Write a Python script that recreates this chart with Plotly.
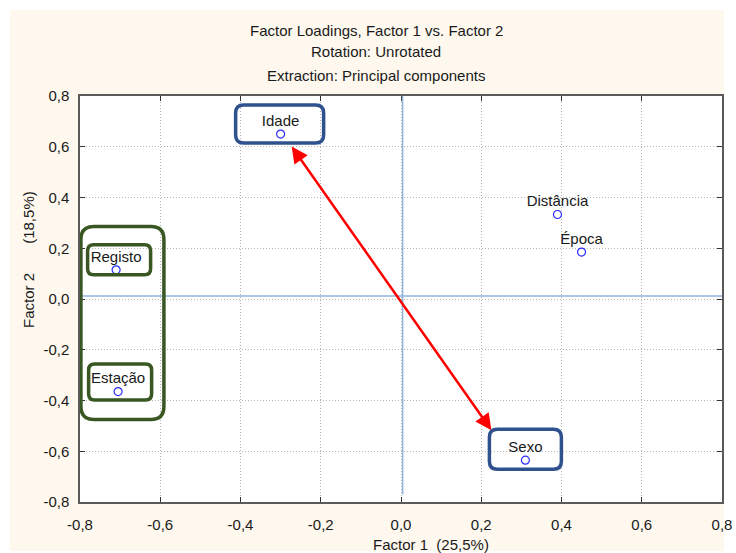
import plotly.graph_objects as go

# Factor loadings of each variable on the first two principal components
variables = ["Idade", "Distância", "Época", "Sexo", "Registo", "Estação"]
factor1 = [-0.30, 0.39, 0.45, 0.31, -0.71, -0.705]
factor2 = [0.65, 0.333, 0.185, -0.635, 0.115, -0.365]

tick_vals = [-0.8, -0.6, -0.4, -0.2, 0.0, 0.2, 0.4, 0.6, 0.8]
tick_text = ["-0,8", "-0,6", "-0,4", "-0,2", "0,0", "0,2", "0,4", "0,6", "0,8"]

title_lines = ["Factor Loadings, Factor 1 vs. Factor 2",
               "Rotation: Unrotated",
               "Extraction: Principal components"]
x_title = "Factor 1\u00a0\u00a0(25,5%)"
y_title = "Factor 2" + "\u00a0" * 7 + "(18,5%)"

FONT = "Liberation Sans, Arial, sans-serif"
TXT = "#1a1a1a"
CREAM = "#FEF8EE"
BLUE_BOX = "#2F528F"
GREEN_BOX = "#385723"

W, H = 736, 553
M = dict(l=80, r=14, t=96, b=51)
pw = W - M["l"] - M["r"]
ph = H - M["t"] - M["b"]
xr = (-0.8, 0.8)
yr = (-0.8, 0.8)
sx = pw / (xr[1] - xr[0])   # pixels per data unit, x
sy = ph / (yr[1] - yr[0])   # pixels per data unit, y

pt = {v: (a, b) for v, a, b in zip(variables, factor1, factor2)}


def shift(p, ox, oy):
    """Move a data point by a screen offset in pixels (oy positive = down)."""
    return (p[0] + ox / sx, p[1] - oy / sy)


def rounded_box(c, w, h, r):
    """Rounded rectangle path centred on data point c, sizes in pixels."""
    cx, cy = c
    x0, x1 = cx - w / 2 / sx, cx + w / 2 / sx
    y0, y1 = cy - h / 2 / sy, cy + h / 2 / sy
    rx, ry = r / sx, r / sy
    return (f"M {x0 + rx},{y1} L {x1 - rx},{y1} Q {x1},{y1} {x1},{y1 - ry} "
            f"L {x1},{y0 + ry} Q {x1},{y0} {x1 - rx},{y0} "
            f"L {x0 + rx},{y0} Q {x0},{y0} {x0},{y0 + ry} "
            f"L {x0},{y1 - ry} Q {x0},{y1} {x0 + rx},{y1} Z")


fig = go.Figure()
# loading markers
fig.add_trace(go.Scatter(
    x=factor1, y=factor2, mode="markers",
    marker=dict(symbol="circle-open", size=8, color="#2a2aff",
                line=dict(width=1.2, color="#2a2aff")),
    cliponaxis=False, showlegend=False, hoverinfo="skip",
))
# variable names, set just above each marker
label_pos = [shift(pt[v], 0, -12) for v in variables]
fig.add_trace(go.Scatter(
    x=[p[0] for p in label_pos], y=[p[1] for p in label_pos],
    text=variables, mode="text", textposition="middle center",
    textfont=dict(family=FONT, size=15, color=TXT),
    cliponaxis=False, showlegend=False, hoverinfo="skip",
))

shapes = [
    # cream page panel and white plotting area
    dict(type="rect", xref="paper", yref="paper", layer="below",
         x0=(10 - M["l"]) / pw, x1=(724 - M["l"]) / pw,
         y0=(H - M["b"] - 551) / ph, y1=(H - M["b"] - 10) / ph,
         fillcolor=CREAM, line=dict(width=0)),
    dict(type="rect", xref="x", yref="y", layer="below",
         x0=xr[0], x1=xr[1], y0=yr[0], y1=yr[1],
         fillcolor="white", line=dict(width=0)),
    # origin reference lines
    dict(type="line", xref="x", yref="y", x0=0.004, x1=0.004, y0=yr[1], y1=-0.77,
         line=dict(color="#8fb5de", width=1.5)),
    dict(type="line", xref="x", yref="y", x0=xr[0], x1=xr[1], y0=0.012, y1=0.012,
         line=dict(color="#8fb5de", width=1.5)),
    # highlighted groups
    dict(type="path", path=rounded_box(shift(pt["Idade"], -1, -10), 88, 38, 8),
         line=dict(color=BLUE_BOX, width=3.5)),
    dict(type="path", path=rounded_box(shift(pt["Sexo"], 0, -11), 72, 40, 8),
         line=dict(color=BLUE_BOX, width=3.5)),
    dict(type="path", path=rounded_box(shift(pt["Registo"], 3, -10), 63, 30, 6),
         line=dict(color=GREEN_BOX, width=3.5)),
    dict(type="path", path=rounded_box(shift(pt["Estação"], 2, -9.5), 63, 36, 6),
         line=dict(color=GREEN_BOX, width=3.5)),
    dict(type="path", path=rounded_box(shift(pt["Registo"], 6.3, 53.2), 83, 193, 13),
         line=dict(color=GREEN_BOX, width=3.5)),
]

tail = shift(pt["Idade"], 10, 11)
head = shift(pt["Sexo"], -34, -30)

annotations = [
    dict(x=head[0], y=head[1], ax=tail[0], ay=tail[1], xref="x", yref="y",
         axref="x", ayref="y", text="", showarrow=True, arrowside="end+start",
         arrowhead=2, startarrowhead=2, arrowsize=1.3, startarrowsize=1.3,
         arrowwidth=2.5, arrowcolor="#ff0000", standoff=0, startstandoff=0),
]
for line_text, ypx in zip(title_lines, [30, 52, 75]):
    annotations.append(dict(
        text=line_text, xref="paper", yref="paper",
        x=(376 - M["l"]) / pw, y=(H - M["b"] - ypx) / ph,
        xanchor="center", yanchor="middle", showarrow=False,
        font=dict(family=FONT, size=15, color=TXT)))
annotations.append(dict(
    text=x_title, xref="paper", yref="paper",
    x=(431 - M["l"]) / pw, y=(H - M["b"] - 544) / ph,
    xanchor="center", yanchor="middle", showarrow=False,
    font=dict(family=FONT, size=15, color=TXT)))
annotations.append(dict(
    text=y_title, xref="paper", yref="paper", textangle=-90,
    x=(28 - M["l"]) / pw, y=(H - M["b"] - 260) / ph,
    xanchor="center", yanchor="middle", showarrow=False,
    font=dict(family=FONT, size=15, color=TXT)))

axis_common = dict(
    tickvals=tick_vals, ticktext=tick_text, automargin=False,
    showline=True, mirror="ticks", linecolor="#5a5a5a", linewidth=1.5,
    ticks="inside", ticklen=5, tickwidth=1, tickcolor="#333",
    showgrid=True, gridcolor="#b5b5b5", griddash="1px,2px", gridwidth=1,
    zeroline=False, tickfont=dict(family=FONT, size=15, color=TXT),
    fixedrange=True,
)

fig.update_xaxes(range=list(xr), ticklabelstandoff=8, **axis_common)
fig.update_yaxes(range=list(yr), ticklabelstandoff=6, **axis_common)

fig.update_layout(
    width=W, height=H, margin=M, autosize=False,
    paper_bgcolor="white", plot_bgcolor="white",
    shapes=shapes, annotations=annotations,
    font=dict(family=FONT, size=15, color=TXT),
)

fig.write_html("out.html")
